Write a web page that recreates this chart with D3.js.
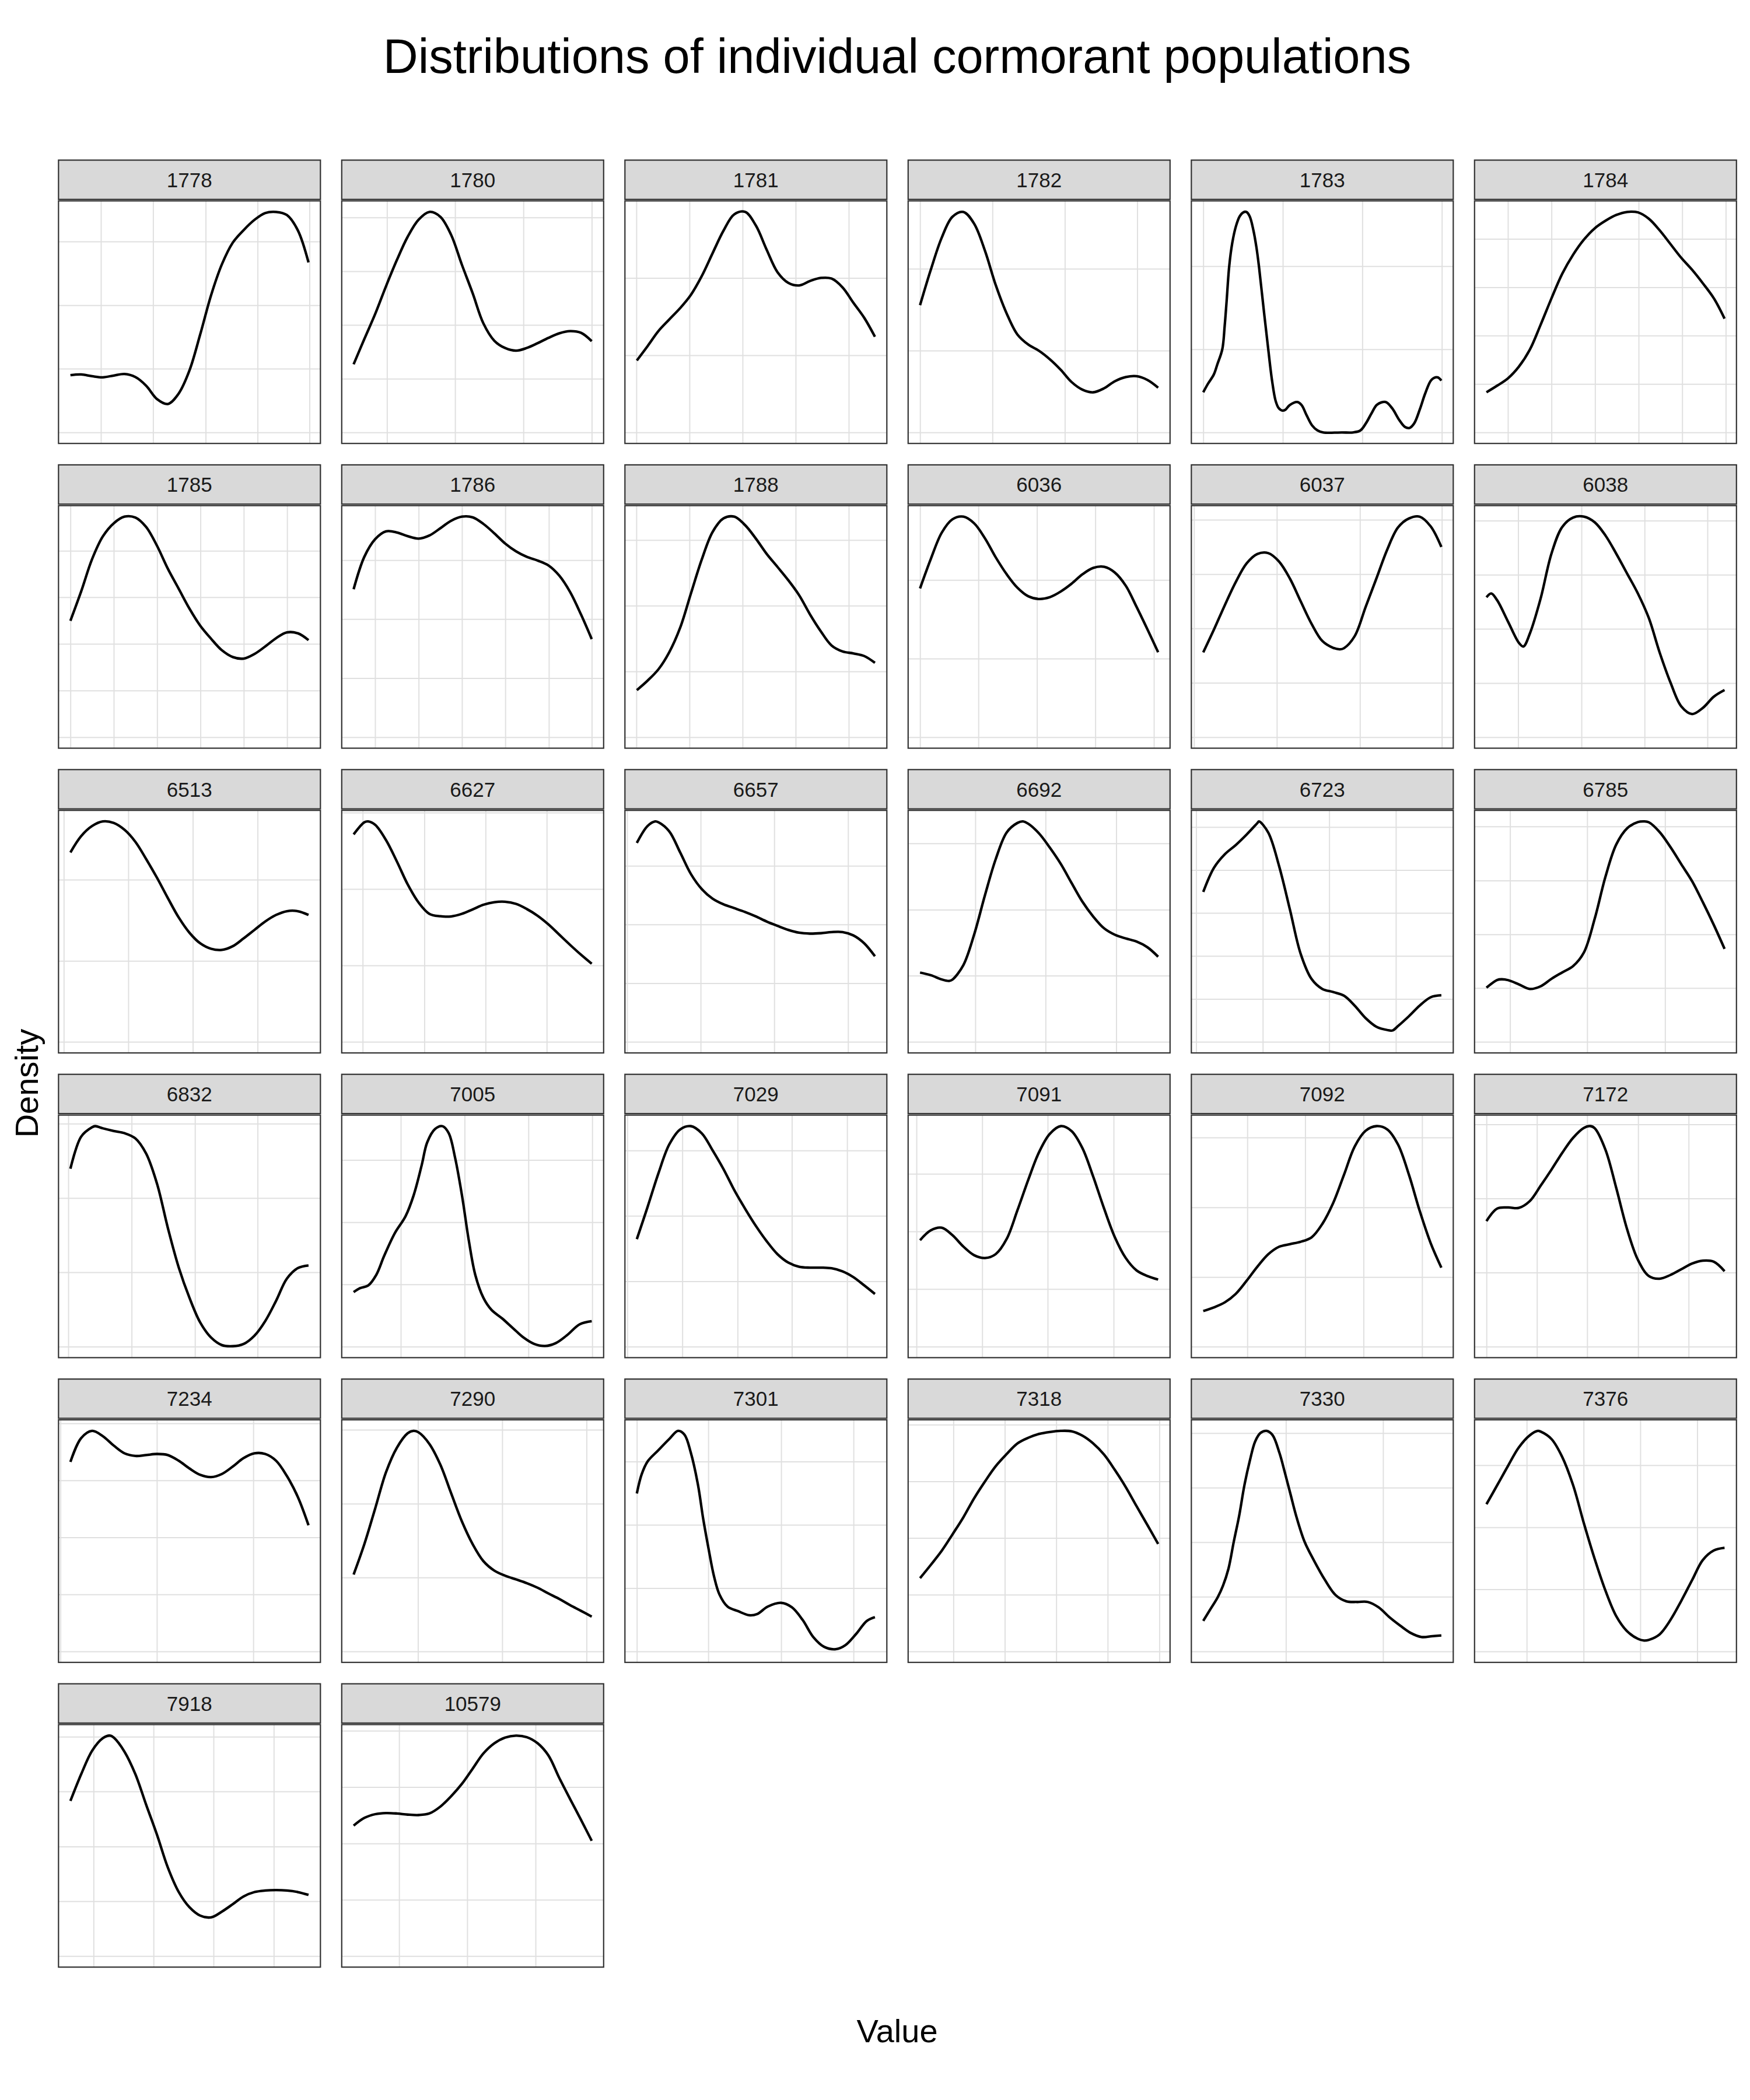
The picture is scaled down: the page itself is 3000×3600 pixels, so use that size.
<!DOCTYPE html>
<html>
<head>
<meta charset="utf-8">
<script src="https://cdn.jsdelivr.net/npm/d3@7"></script>
<style>
  html, body { margin: 0; padding: 0; background: #ffffff; }
</style>
</head>
<body>
<svg id="chart" width="3000" height="3600"></svg>
<script>
// ---------------- DATA ----------------
const chartTitle = "Distributions of individual cormorant populations";
const xAxisTitle = "Value";
const yAxisTitle = "Density";

const populations = ["1778","1780","1781","1782","1783","1784",
  "1785","1786","1788","6036","6037","6038",
  "6513","6627","6657","6692","6723","6785",
  "6832","7005","7029","7091","7092","7172",
  "7234","7290","7301","7318","7330","7376",
  "7918","10579"];

// Common evenly spaced value positions (percent of each population's value range)
const samplePos = [0,4.5,9.1,13.6,18.2,22.7,27.3,31.8,36.4,40.9,45.5,50,54.5,59.1,63.6,68.2,72.7,77.3,81.8,86.4,90.9,95.5,100];

// Density readings (percent of each population's peak density) at samplePos
const dens1778 = [26.0,26.3,25.5,25.0,25.8,26.5,25.1,21.2,15.1,12.9,17.7,28.1,44.4,62.3,76.2,86.1,91.7,96.4,99.5,100.0,98.6,91.7,77.1];
const dens1780 = [31.0,42.5,54.0,66.5,78.5,89.0,96.8,100.3,98.1,90.0,76.2,63.3,49.6,41.7,38.4,37.2,38.4,40.6,43.0,45.1,46.1,45.3,41.5];
const dens1781 = [32.7,39.2,46.1,51.3,56.5,62.5,71.1,81.4,91.7,99.1,100.2,94.0,83.1,72.8,68.0,66.8,68.8,70.2,69.9,65.9,59.0,52.1,43.5];
const dens1782 = [57.7,73.7,88.3,97.8,100.0,94.7,82.3,66.8,53.9,44.4,39.8,37.0,33.2,28.4,22.9,19.4,18.2,20.0,23.2,25.1,25.5,23.8,20.3];
const dens1784 = [18.2,21.2,24.6,29.8,37.5,48.7,60.8,71.9,80.6,87.4,92.6,96.0,98.6,100.0,99.8,96.9,91.7,85.4,79.2,73.7,67.6,60.8,51.6];
const dens1785 = [52.9,66.2,80.9,91.2,97.2,100.2,99.8,95.5,86.9,76.6,67.4,58.4,50.7,44.7,39.5,36.4,35.7,37.8,41.2,45.0,47.6,47.2,44.1];
const dens1786 = [67.4,82.2,90.3,93.8,93.3,91.6,90.5,91.9,95.2,98.6,100.5,100.2,97.2,92.9,88.3,84.7,82.2,80.5,78.3,73.6,66.2,55.9,44.7];
const dens1788 = [21.4,25.7,30.9,38.6,49.8,65.3,80.9,93.3,99.5,100.3,96.4,90.3,83.4,77.4,71.4,64.5,55.9,48.1,41.7,39.0,38.1,36.9,33.8];
const dens6036 = [67.6,80.9,92.9,99.0,100.2,97.2,90.3,81.7,74.0,67.9,64.0,62.8,63.6,66.2,69.7,74.0,76.9,77.4,74.8,68.8,59.3,49.0,38.6];
const dens6513 = [86.1,93.5,98.1,100.2,99.5,96.4,90.9,83.1,74.5,65.4,56.5,49.6,44.8,42.3,41.8,43.5,47.0,50.9,54.7,57.7,59.4,59.4,57.7];
const dens7029 = [49.0,63.6,79.1,92.1,99.0,100.5,97.2,89.5,80.9,71.4,62.8,55.0,48.1,42.1,38.3,36.4,36.0,36.0,35.7,34.3,31.7,27.9,24.0];
const dens7091 = [48.4,52.9,54.1,50.7,45.5,41.6,40.3,42.1,49.0,62.0,76.0,88.5,96.8,100.3,98.1,90.3,77.4,62.8,49.8,40.3,34.7,32.1,30.5];
const dens7092 = [16.2,17.9,20.2,24.0,30.0,36.4,42.1,45.5,46.7,47.8,49.8,55.9,65.3,78.3,91.2,98.4,100.5,99.0,92.1,78.3,61.9,47.2,36.0];
const dens7234 = [86.1,96.9,100.2,97.8,93.5,90.0,88.8,89.2,89.7,89.2,86.6,83.1,80.2,79.2,80.6,84.0,87.8,90.0,89.7,86.6,79.7,70.2,57.3];
const dens7318 = [33.2,39.2,45.6,53.0,60.8,69.4,77.1,84.0,89.5,94.3,96.9,98.6,99.5,100.0,99.8,97.8,94.3,89.2,82.3,74.5,65.9,57.3,48.7];
const dens10579 = [59.3,62.8,64.5,65.0,64.8,64.3,64.1,64.8,67.9,72.6,78.3,85.2,92.1,96.7,99.3,100.2,99.5,96.7,91.2,80.9,71.4,61.9,52.4];

// Populations read at irregular positions: [value position, density]
const pairs1783 = [[0,18.2],[2.0,22.1],[4.4,26.2],[5.9,30.8],[8.0,37.7],[9.0,48.3],[9.8,59.3],[10.9,75.3],[12.2,86.0],[13.7,93.4],[15.3,98.0],[16.8,99.8],[18.1,100],[19.5,98.0],[21.1,91.5],[22.3,84.2],[23.4,75.3],[25.4,55.7],[27.3,37.7],[28.9,23.5],[30.4,14.3],[31.7,11.0],[33.2,9.9],[34.5,10.3],[36.3,12.4],[39.5,13.8],[41.3,12.4],[43.4,7.8],[45.7,3.2],[48.0,0.9],[50.4,0],[58.2,0],[62.9,0],[66.0,0.9],[68.3,4.1],[70.7,8.7],[73.0,12.6],[76.6,13.8],[79.3,11.0],[82.4,5.5],[84.7,2.5],[86.6,2.0],[88.6,4.1],[91.0,10.6],[93.3,17.9],[95.9,23.9],[98.4,25.0],[100,23.5]];
const pairs6037 = [[0,38.6],[4.5,49.0],[9.1,60.2],[13.6,70.5],[18.2,79.1],[22.7,83.4],[27.3,83.8],[31.8,80.0],[36.4,72.2],[40.9,61.9],[45.5,51.6],[50,43.8],[54.5,40.7],[57.4,40.0],[59.1,40.5],[63.6,46.0],[68.2,59.3],[72.7,72.2],[77.3,85.5],[81.8,95.5],[86.4,99.6],[90.9,100.4],[95.5,96.0],[100,86.6]];
const pairs6038 = [[0,63.6],[2.0,65.3],[4.5,62.2],[9.1,52.4],[13.6,42.9],[15.5,41.2],[18.2,47.0],[22.7,62.8],[27.3,83.4],[31.8,95.5],[36.4,99.8],[40.9,100.2],[45.5,97.6],[50,91.6],[54.5,83.4],[59.1,74.3],[63.6,65.3],[68.2,54.1],[72.7,38.6],[77.3,24.8],[81.8,14.0],[86.4,10.5],[90.9,13.3],[95.5,18.4],[100,21.4]];
const pairs6627 = [[0,94.3],[4.5,99.8],[6.1,100.2],[9.1,98.6],[13.6,91.7],[18.2,81.9],[22.7,71.6],[27.3,63.3],[31.8,58.2],[36.4,57.1],[40.9,57.0],[45.5,58.2],[50,60.2],[54.5,62.3],[59.1,63.5],[63.6,63.7],[68.2,62.7],[72.7,60.4],[77.3,57.3],[81.8,53.4],[86.4,48.7],[90.9,44.1],[95.5,39.6],[100,35.5]];
const pairs6657 = [[0,90.4],[4.5,98.1],[7.7,100.2],[9.1,99.8],[13.6,95.7],[18.2,86.1],[22.7,76.3],[27.3,69.4],[31.8,65.1],[36.4,62.5],[40.9,60.8],[45.5,59.0],[50,57.0],[54.5,54.7],[59.1,52.7],[63.6,50.9],[68.2,49.6],[72.7,49.2],[77.3,49.4],[81.8,49.9],[86.4,49.9],[90.9,48.4],[95.5,44.8],[100,38.9]];
const pairs6692 = [[0,31.5],[4.5,30.3],[9.1,28.4],[12.2,27.7],[13.6,28.3],[18.2,34.9],[22.7,48.7],[27.3,66.8],[31.8,83.1],[36.4,95.2],[40.9,99.5],[43.2,100.2],[45.5,99.1],[50,94.7],[54.5,88.3],[59.1,80.9],[63.6,72.3],[68.2,63.7],[72.7,57.0],[77.3,51.6],[81.8,48.7],[86.4,47.0],[90.9,45.6],[95.5,43.0],[100,38.7]];
const pairs6723 = [[0,68.2],[4.5,79.2],[9.1,85.4],[13.6,89.5],[18.2,94.3],[22.7,99.5],[23.4,100.3],[27.3,95.2],[31.8,80.2],[36.4,60.2],[40.9,40.1],[45.5,28.6],[50,24.1],[54.5,22.7],[59.1,21.0],[63.6,16.5],[68.2,10.8],[72.7,6.9],[77.3,5.4],[79.5,5.2],[81.8,7.2],[86.4,11.7],[90.9,16.5],[95.5,20.3],[100,21.2]];
const pairs6785 = [[0,24.6],[4.5,28.1],[6.5,28.4],[9.1,28.0],[13.6,26.1],[18.2,24.0],[22.7,25.2],[27.3,28.6],[31.8,31.5],[36.4,34.4],[40.9,40.5],[45.5,56.0],[50,75.0],[54.5,89.5],[59.1,96.9],[63.6,99.7],[66.2,100.0],[68.2,99.6],[72.7,95.2],[77.3,88.3],[81.8,80.6],[86.4,72.8],[90.9,63.3],[95.5,53.0],[100,42.2]];
const pairs6832 = [[0,80.9],[4.5,95.5],[9.1,99.8],[10.4,100.3],[13.6,99.3],[18.2,98.1],[22.7,97.1],[27.3,94.7],[31.8,87.8],[36.4,74.0],[40.9,54.1],[45.5,36.0],[50,22.2],[54.5,11.0],[59.1,4.1],[63.6,0.7],[68.2,0.2],[72.7,1.2],[77.3,5.0],[81.8,11.6],[86.4,20.9],[90.9,30.9],[95.5,35.7],[100,36.9]];
const pairs7005 = [[0,24.8],[2.7,26.6],[6.1,27.8],[9.5,32.6],[12.8,41.2],[17.3,51.6],[21.8,59.3],[25.2,68.8],[28.6,82.6],[30.9,92.9],[34.2,99.0],[37.2,100.3],[39.9,97.2],[42.6,86.0],[45.5,68.8],[48.4,48.1],[51.1,32.6],[54.5,22.2],[57.9,16.7],[62.4,12.8],[66.9,8.4],[71.4,4.1],[75.9,1.2],[80.4,0.3],[84.9,1.6],[89.4,5.0],[95.0,10.2],[100,11.6]];
const pairs7172 = [[0,57.1],[4.5,62.8],[9.1,63.3],[13.6,63.1],[18.2,66.2],[22.7,73.1],[27.3,80.5],[31.8,88.1],[36.4,95.0],[40.9,99.5],[43.7,100.3],[45.5,99.3],[50,89.5],[54.5,72.2],[59.1,53.3],[63.6,39.5],[68.2,32.1],[72.7,30.9],[77.3,32.6],[81.8,35.2],[86.4,37.8],[90.9,39.1],[95.5,38.6],[100,34.3]];
const pairs7290 = [[0,34.9],[4.5,48.7],[9.1,65.1],[13.6,81.4],[18.2,92.6],[22.7,99.1],[25.2,100.2],[27.3,99.5],[31.8,94.3],[36.4,84.9],[40.9,72.0],[45.5,59.0],[50,48.7],[54.5,41.0],[59.1,36.7],[63.6,34.4],[68.2,32.7],[72.7,31.0],[77.3,28.9],[81.8,26.3],[86.4,23.8],[90.9,21.0],[95.5,18.4],[100,15.8]];
const pairs7301 = [[0,71.6],[2.0,80.2],[4.5,86.1],[9.0,91.2],[13.7,96.4],[17.3,100],[20.0,98.3],[22.7,90.0],[25.7,75.4],[27.9,59.9],[30.2,46.1],[32.4,34.1],[34.7,25.8],[38.1,20.3],[42.6,18.2],[47.1,16.4],[50.5,16.9],[55.0,20.3],[60.6,22.0],[65.1,20.0],[69.6,14.3],[74.1,6.5],[78.6,2.1],[83.6,1.0],[87.6,2.8],[92.1,7.9],[96.6,13.8],[100,15.5]];
const pairs7330 = [[0,13.8],[2.7,18.6],[6.1,24.6],[8.3,29.8],[10.6,37.5],[12.8,49.6],[15.1,61.6],[17.3,75.4],[19.6,86.6],[21.8,95.2],[24.1,99.1],[26.6,100],[29.1,98.1],[32.0,90.0],[34.2,81.4],[36.5,71.9],[39.2,60.8],[42.6,49.6],[46.6,41.0],[51.1,32.4],[55.6,25.5],[60.1,22.7],[64.6,22.4],[69.1,22.4],[73.6,20.0],[78.2,15.5],[82.7,11.7],[87.2,8.3],[91.7,6.5],[96.2,6.9],[100,7.2]];
const pairs7376 = [[0,66.8],[4.5,75.4],[9.1,84.3],[13.6,92.6],[18.2,98.1],[21.6,100.1],[22.7,99.8],[27.3,96.4],[31.8,88.3],[36.4,75.4],[40.9,58.2],[45.5,41.8],[50,27.5],[54.5,16.0],[59.1,9.1],[63.6,5.7],[66.2,4.9],[68.2,5.2],[72.7,7.7],[77.3,14.3],[81.8,22.9],[86.4,32.4],[90.9,41.5],[95.5,45.8],[100,47.0]];
const pairs7918 = [[0,70.5],[4.5,82.6],[9.1,93.3],[13.6,99.0],[16.7,100.2],[18.2,99.3],[22.7,92.9],[27.3,82.6],[31.8,68.8],[36.4,55.0],[40.9,40.3],[45.5,29.1],[50,22.2],[54.5,18.4],[59.1,17.6],[63.6,20.2],[68.2,23.6],[72.7,27.1],[77.3,29.1],[81.8,29.8],[86.4,30.0],[90.9,29.8],[95.5,29.1],[100,27.8]];

// Grid breaks (value axis), one list per population, in the same units as the positions
const valueBreaks = [
  [12.8,34.7,56.8,78.6,100.4], [14.0,42.6,71.3,100], [-0.2,22.1,44.4,66.7,89.0], [0,30.4,60.8,91.2], [0,33.4,66.8,100.2], [9.0,27.3,45.6,63.9,82.2,100.5],
  [0,18.2,36.4,54.6,72.8,91.0], [9.0,27.3,45.5,63.7,82.0,100], [-0.2,22.1,44.4,66.7,89.0], [0,24.5,49.1,73.6,98.2], [-3.9,30.9,65.8,100.2], [13.3,39.9,66.4,92.8],
  [-2.8,24.3,51.4,78.6], [3.8,29.7,55.4,81.1], [-4.1,26.8,57.7,88.7], [23.2,52.7,82.4], [-3.0,25.0,52.9,80.9], [9.9,42.3,75.0],
  [-0.9,25.7,52.3,78.6], [19.8,46.6,73.4,100.2], [-4.0,19.1,42.3,65.1,88.3], [-1.5,26.1,53.6,81.3], [18.5,42.8,67.3,91.9], [0,21.2,42.3,63.7,84.9],
  [-4.2,36.3,76.8], [27.0,62.4,97.8], [0,30.0,60.6,91.0], [14.0,35.6,57.2,78.8,100.5], [34.7,75.5], [16.9,40.8,64.6,88.5],
  [9.7,34.9,60.1,85.4], [19.1,47.7,76.4]
];
// Grid breaks (density axis), one list per population
const densityBreaks = [
  [0,28.9,57.7,86.6], [0,24.4,48.9,73.3,97.8], [0,35.1,70.2], [0,37.1,74.2], [0,37.7,75.4], [0,21.95,43.9,65.85,87.8],
  [0,21.2,42.4,63.6,84.7], [0,26.9,53.8,80.7], [0,29.9,59.8,89.7], [0,35.7,71.4], [0,24.75,49.5,74.25,99.0], [0,24.6,49.2,73.8,98.4],
  [0,36.8,73.7], [0,34.75,69.5,104.2], [0,26.7,53.4,80.0], [0,30.1,60.1,90.2], [0,19.55,39.1,58.65,78.2,97.75], [0,24.4,48.8,73.2,97.7],
  [0,33.8,67.6,101.4], [0,28.3,56.6,84.9], [0,29.8,59.6,89.4], [0,26.2,52.4,78.6], [0,31.7,63.5,95.3], [0,33.7,67.4,101.1],
  [0,25.9,51.8,77.7,103.6], [0,33.6,67.1,100.7], [0,28.7,57.4,86.1], [0,25.7,51.4,77.1,102.8], [0,24.75,49.5,74.25,99.0], [0,28.2,56.3,84.5],
  [0,24.9,49.8,74.8,99.7], [0,25.6,51.2,76.8,102.4]
];

// Build [position, density] tables
const toPairs = dens => dens.map((d, i) => [samplePos[i], d]);
const densityCurves = [
  toPairs(dens1778), toPairs(dens1780), toPairs(dens1781), toPairs(dens1782), pairs1783, toPairs(dens1784),
  toPairs(dens1785), toPairs(dens1786), toPairs(dens1788), toPairs(dens6036), pairs6037, pairs6038,
  toPairs(dens6513), pairs6627, pairs6657, pairs6692, pairs6723, pairs6785,
  pairs6832, pairs7005, toPairs(dens7029), toPairs(dens7091), toPairs(dens7092), pairs7172,
  toPairs(dens7234), pairs7290, pairs7301, toPairs(dens7318), pairs7330, pairs7376,
  pairs7918, toPairs(dens10579)
];

// ---------------- LAYOUT ----------------
const W = 3000, H = 3600;
const nCols = 6;
const panelLeft0 = 100.3, colPitch = 485.5, panelW = 449;
const stripTop0 = 274.5, rowPitch = 522.4, stripH = 67.3, stripGap = 2.6, panelH = 415.8;
const fontFamily = "'Liberation Sans', Arial, Helvetica, sans-serif";
const gridColor = "#E0E0E0", gridWidth = 2;
const borderColor = "#333333", borderWidth = 2.2;

const svg = d3.select("#chart");
svg.append("rect").attr("x", 0).attr("y", 0).attr("width", W).attr("height", H).attr("fill", "#ffffff");

populations.forEach((pop, i) => {
  const col = i % nCols, row = Math.floor(i / nCols);
  const x0 = panelLeft0 + col * colPitch;
  const sTop = stripTop0 + row * rowPitch;
  const pTop = sTop + stripH + stripGap;
  const data = densityCurves[i];

  const xExt = d3.extent(data, d => d[0]);
  const yMax = d3.max(data, d => d[1]);
  const xPad = (xExt[1] - xExt[0]) * 0.05, yPad = yMax * 0.05;
  const x = d3.scaleLinear().domain([xExt[0] - xPad, xExt[1] + xPad]).range([x0, x0 + panelW]);
  const y = d3.scaleLinear().domain([-yPad, yMax + yPad]).range([pTop + panelH, pTop]);

  const g = svg.append("g").attr("class", "panel");

  g.append("rect").attr("x", x0).attr("y", pTop).attr("width", panelW).attr("height", panelH).attr("fill", "#ffffff");

  const xd = x.domain(), yd = y.domain();
  const xb = valueBreaks[i].filter(v => v >= xd[0] && v <= xd[1]);
  const yb = densityBreaks[i].filter(v => v >= yd[0] && v <= yd[1]);

  g.append("g")
    .attr("transform", `translate(0,${pTop + panelH})`)
    .call(d3.axisBottom(x).tickValues(xb).tickSize(-panelH).tickSizeOuter(0).tickFormat(""))
    .call(s => {
      s.select(".domain").remove();
      s.selectAll(".tick line").attr("stroke", gridColor).attr("stroke-width", gridWidth);
      s.selectAll(".tick text").remove();
    });
  g.append("g")
    .attr("transform", `translate(${x0},0)`)
    .call(d3.axisLeft(y).tickValues(yb).tickSize(-panelW).tickSizeOuter(0).tickFormat(""))
    .call(s => {
      s.select(".domain").remove();
      s.selectAll(".tick line").attr("stroke", gridColor).attr("stroke-width", gridWidth);
      s.selectAll(".tick text").remove();
    });

  const line = d3.line().x(d => x(d[0])).y(d => y(d[1])).curve(d3.curveCatmullRom.alpha(0.5));
  g.append("path").datum(data)
    .attr("d", line)
    .attr("fill", "none")
    .attr("stroke", "#000000")
    .attr("stroke-width", 4.3)
    .attr("stroke-linejoin", "round")
    .attr("stroke-linecap", "butt");

  g.append("rect").attr("x", x0).attr("y", pTop).attr("width", panelW).attr("height", panelH)
    .attr("fill", "none").attr("stroke", borderColor).attr("stroke-width", borderWidth);

  g.append("rect").attr("x", x0).attr("y", sTop).attr("width", panelW).attr("height", stripH)
    .attr("fill", "#D9D9D9").attr("stroke", borderColor).attr("stroke-width", borderWidth);
  g.append("text")
    .attr("x", x0 + panelW / 2)
    .attr("y", sTop + stripH / 2 + 35 * 0.36)
    .attr("text-anchor", "middle")
    .attr("font-family", fontFamily)
    .attr("font-size", 35)
    .attr("fill", "#1A1A1A")
    .text(pop);
});

svg.append("text")
  .attr("x", 1538).attr("y", 125)
  .attr("text-anchor", "middle")
  .attr("font-family", fontFamily).attr("font-size", 83)
  .attr("fill", "#000000")
  .text(chartTitle);

svg.append("text")
  .attr("x", 1538).attr("y", 3501)
  .attr("text-anchor", "middle")
  .attr("font-family", fontFamily).attr("font-size", 56)
  .attr("fill", "#000000")
  .text(xAxisTitle);

svg.append("text")
  .attr("transform", "translate(65,1857) rotate(-90)")
  .attr("text-anchor", "middle")
  .attr("font-family", fontFamily).attr("font-size", 56)
  .attr("fill", "#000000")
  .text(yAxisTitle);
</script>
</body>
</html>
